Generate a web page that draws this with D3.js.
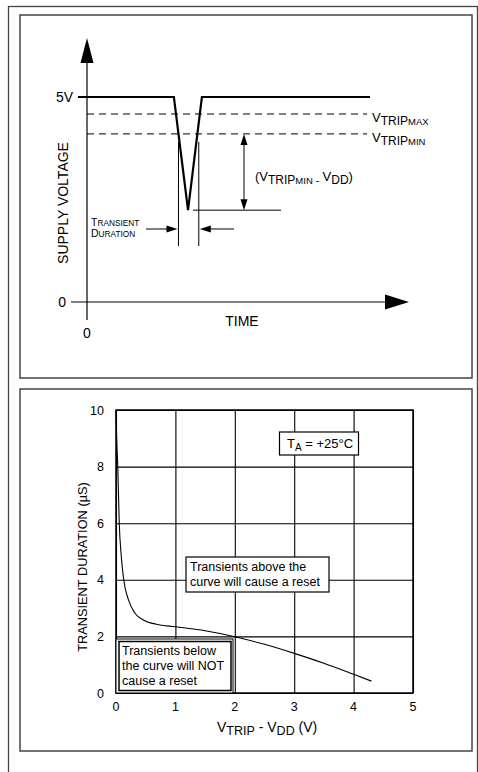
<!DOCTYPE html>
<html>
<head>
<meta charset="utf-8">
<script src="https://cdn.jsdelivr.net/npm/d3@7"></script>
<style>
  body { margin: 0; background: #fff; }
  svg { display: block; font-family: "Liberation Sans", Arial, sans-serif; }
</style>
</head>
<body>
<svg id="chart"></svg>
<script>
// ---- data: top schematic (time in arbitrary units, volts) ----
var waveT = [-3.2, 30.7, 35.7, 40.6, 100];
var waveV = [5, 5, 2.24, 5, 5];
var tripNames = ['MAX', 'MIN'];
var tripV = [4.585, 4.10];
var supplyTicks = ['5V', '0'];

// ---- data: bottom chart ----
var curveX = [0, 0.01, 0.03, 0.055, 0.09, 0.13, 0.21, 0.32, 0.46, 0.68, 1, 1.5, 2, 2.5, 3, 3.5, 4, 4.3];
var curveY = [10, 9.1, 8, 6, 4.8, 4, 3.29, 2.82, 2.58, 2.43, 2.34, 2.2, 1.99, 1.72, 1.4, 1.05, 0.66, 0.42];
var xTicks = [0, 1, 2, 3, 4, 5];
var yTicks = [0, 2, 4, 6, 8, 10];

var W = 478, H = 772;
var svg = d3.select('#chart').attr('width', W).attr('height', H);

// outer frame and two panels
svg.append('rect').attr('x', 8.5).attr('y', 6.5).attr('width', 469).attr('height', 800)
  .attr('fill', 'none').attr('stroke', '#444').attr('stroke-width', 1.3);
svg.append('rect').attr('x', 20).attr('y', 15).attr('width', 452).attr('height', 363)
  .attr('fill', 'none').attr('stroke', '#444').attr('stroke-width', 1.5);
svg.append('rect').attr('x', 20).attr('y', 389).attr('width', 452).attr('height', 362)
  .attr('fill', 'none').attr('stroke', '#444').attr('stroke-width', 1.5);

// ================= top schematic =================
var tx = d3.scaleLinear().domain([0, 100]).range([87, 370]);
var vy = d3.scaleLinear().domain([0, 5]).range([302, 97]);
var upper = svg.append('g');

function tri(g, x, y, dir, len, half) {
  var p;
  if (dir == 'up') p = [[x, y], [x - half, y + len], [x + half, y + len]];
  if (dir == 'down') p = [[x, y], [x - half, y - len], [x + half, y - len]];
  if (dir == 'right') p = [[x, y], [x - len, y - half], [x - len, y + half]];
  if (dir == 'left') p = [[x, y], [x + len, y - half], [x + len, y + half]];
  g.append('path').attr('d', 'M' + p.join('L') + 'Z').attr('fill', '#000');
}

// axes
upper.append('line').attr('x1', tx(0)).attr('x2', tx(0)).attr('y1', 320).attr('y2', 55)
  .attr('stroke', '#000').attr('stroke-width', 1.2);
tri(upper, tx(0), 38, 'up', 25, 6.5);
upper.append('line').attr('x1', 71).attr('x2', 395).attr('y1', vy(0)).attr('y2', vy(0))
  .attr('stroke', '#000').attr('stroke-width', 1.2);
tri(upper, 409, vy(0), 'right', 24, 7.5);

// tick labels
upper.append('text').attr('x', 73).attr('y', vy(5) + 5).attr('text-anchor', 'end')
  .attr('font-size', 14).text(supplyTicks[0]);
upper.append('text').attr('x', 66).attr('y', vy(0) + 5).attr('text-anchor', 'end')
  .attr('font-size', 14).text(supplyTicks[1]);
upper.append('text').attr('x', tx(0)).attr('y', 338).attr('text-anchor', 'middle')
  .attr('font-size', 14).text('0');
upper.append('text').attr('x', 242).attr('y', 326).attr('text-anchor', 'middle')
  .attr('font-size', 14).text('TIME');
upper.append('text').attr('transform', 'translate(68,203) rotate(-90)')
  .attr('text-anchor', 'middle').attr('font-size', 14).text('SUPPLY VOLTAGE');

// dashed trip levels
tripV.forEach(function(v, i) {
  upper.append('line').attr('x1', tx(0)).attr('x2', tx(99)).attr('y1', vy(v)).attr('y2', vy(v))
    .attr('stroke', '#000').attr('stroke-width', 1).attr('stroke-dasharray', '7,5');
  var t = upper.append('text').attr('x', 372).attr('y', vy(v) + 8);
  t.append('tspan').attr('font-size', 13).text('V');
  t.append('tspan').attr('font-size', 12).attr('dy', 3).text('TRIP');
  t.append('tspan').attr('font-size', 9.5).text(tripNames[i]);
});

// waveform
var wave = d3.line().x(function(d) { return tx(d[0]); }).y(function(d) { return vy(d[1]); });
upper.append('path').datum(d3.zip(waveT, waveV)).attr('d', wave)
  .attr('fill', 'none').attr('stroke', '#000').attr('stroke-width', 2.2).attr('stroke-linejoin', 'miter');

// crossings of the dip with VTRIPMIN
var vmin = tripV[1];
var tL = waveT[1] + (waveT[2] - waveT[1]) * (waveV[1] - vmin) / (waveV[1] - waveV[2]);
var tR = waveT[2] + (waveT[3] - waveT[2]) * (vmin - waveV[2]) / (waveV[3] - waveV[2]);
[tL, tR + 0.5].forEach(function(t) {
  upper.append('line').attr('x1', tx(t)).attr('x2', tx(t)).attr('y1', vy(vmin) + 8).attr('y2', 246)
    .attr('stroke', '#000').attr('stroke-width', 1);
});

// depth marker
upper.append('line').attr('x1', tx(waveT[2]) + 5).attr('x2', 281).attr('y1', vy(waveV[2])).attr('y2', vy(waveV[2]))
  .attr('stroke', '#000').attr('stroke-width', 1);
upper.append('line').attr('x1', 244).attr('x2', 244).attr('y1', vy(vmin) + 8).attr('y2', vy(waveV[2]) - 8)
  .attr('stroke', '#000').attr('stroke-width', 1);
tri(upper, 244, vy(vmin), 'up', 11, 3.5);
tri(upper, 244, vy(waveV[2]), 'down', 11, 3.5);
var lbl = upper.append('text').attr('x', 255).attr('y', 181);
lbl.append('tspan').attr('font-size', 13).text('(V');
lbl.append('tspan').attr('font-size', 12).attr('dy', 3).text('TRIP');
lbl.append('tspan').attr('font-size', 9.5).text('MIN');
lbl.append('tspan').attr('font-size', 11).text(' - ');
lbl.append('tspan').attr('font-size', 13).attr('dy', -3).text('V');
lbl.append('tspan').attr('font-size', 12).attr('dy', 3).text('DD');
lbl.append('tspan').attr('font-size', 13).attr('dy', -3).text(')');

// transient duration arrows
var ay = 229;
upper.append('line').attr('x1', 146).attr('x2', tx(tL) - 8).attr('y1', ay).attr('y2', ay)
  .attr('stroke', '#000').attr('stroke-width', 1);
tri(upper, tx(tL) - 1, ay, 'right', 11, 3.5);
upper.append('line').attr('x1', tx(tR + 0.5) + 8).attr('x2', 234).attr('y1', ay).attr('y2', ay)
  .attr('stroke', '#000').attr('stroke-width', 1);
tri(upper, tx(tR + 0.5) + 1, ay, 'left', 11, 3.5);
var td1 = upper.append('text').attr('x', 91).attr('y', 226);
td1.append('tspan').attr('font-size', 10.5).text('T');
td1.append('tspan').attr('font-size', 8.3).text('RANSIENT');
var td2 = upper.append('text').attr('x', 91).attr('y', 237);
td2.append('tspan').attr('font-size', 10.5).text('D');
td2.append('tspan').attr('font-size', 8.3).text('URATION');

// ================= bottom chart =================
var x = d3.scaleLinear().domain([0, 5]).range([116, 413]);
var y = d3.scaleLinear().domain([0, 10]).range([693, 410]);
var bot = svg.append('g');

// grid
bot.append('g').attr('transform', 'translate(0,' + y(0) + ')')
  .call(d3.axisBottom(x).tickValues(xTicks).tickSize(-(y(0) - y(10))).tickFormat(''))
  .call(function(g) {
    g.select('.domain').remove();
    g.selectAll('line').attr('stroke', '#000').attr('stroke-width', 1.1);
  });
bot.append('g').attr('transform', 'translate(' + x(0) + ',0)')
  .call(d3.axisLeft(y).tickValues(yTicks).tickSize(-(x(5) - x(0))).tickFormat(''))
  .call(function(g) {
    g.select('.domain').remove();
    g.selectAll('line').attr('stroke', '#000').attr('stroke-width', 1.1);
  });
bot.append('rect').attr('x', x(0)).attr('y', y(10)).attr('width', x(5) - x(0)).attr('height', y(0) - y(10))
  .attr('fill', 'none').attr('stroke', '#000').attr('stroke-width', 1.5);

// tick labels
bot.selectAll('.xl').data(xTicks).enter().append('text')
  .attr('x', function(d) { return x(d); }).attr('y', 711)
  .attr('text-anchor', 'middle').attr('font-size', 12.5).text(function(d) { return d; });
bot.selectAll('.yl').data(yTicks).enter().append('text')
  .attr('x', 104).attr('y', function(d) { return y(d) + 4.5; })
  .attr('text-anchor', 'end').attr('font-size', 12.5).text(function(d) { return d; });

// axis titles
var xt = bot.append('text').attr('x', 217).attr('y', 732);
xt.append('tspan').attr('font-size', 14).text('V');
xt.append('tspan').attr('font-size', 12.5).attr('dy', 3).text('TRIP');
xt.append('tspan').attr('font-size', 14).attr('dy', -3).text(' - V');
xt.append('tspan').attr('font-size', 12.5).attr('dy', 3).text('DD');
xt.append('tspan').attr('font-size', 14).attr('dy', -3).text(' (V)');
bot.append('text').attr('transform', 'translate(87,567) rotate(-90)')
  .attr('text-anchor', 'middle').attr('font-size', 12.8).text('TRANSIENT DURATION (µS)');

// curve
var line = d3.line().x(function(d) { return x(d[0]); }).y(function(d) { return y(d[1]); })
  .curve(d3.curveMonotoneX);
bot.append('path').datum(d3.zip(curveX, curveY)).attr('d', line)
  .attr('fill', 'none').attr('stroke', '#000').attr('stroke-width', 1.1);

// TA box
bot.append('rect').attr('x', 279.5).attr('y', 432).attr('width', 79).attr('height', 23)
  .attr('fill', '#fff').attr('stroke', '#000').attr('stroke-width', 1.2);
var ta = bot.append('text').attr('x', 287).attr('y', 448);
ta.append('tspan').attr('font-size', 13).text('T');
ta.append('tspan').attr('font-size', 10).attr('dy', 3).text('A');
ta.append('tspan').attr('font-size', 13).attr('dy', -3).text(' = +25°C');

// "above" box
bot.append('rect').attr('x', 186).attr('y', 557).attr('width', 143).attr('height', 35)
  .attr('fill', '#fff').attr('stroke', '#000').attr('stroke-width', 1.2);
['Transients above the', 'curve will cause a reset'].forEach(function(s, i) {
  bot.append('text').attr('x', 190).attr('y', 571 + i * 15).attr('font-size', 12.5).text(s);
});

// "below" box (double border)
bot.append('rect').attr('x', 116).attr('y', 639).attr('width', 117).attr('height', 54)
  .attr('fill', '#fff').attr('stroke', '#000').attr('stroke-width', 1);
bot.append('rect').attr('x', 119).attr('y', 641.5).attr('width', 112).attr('height', 49)
  .attr('fill', '#fff').attr('stroke', '#000').attr('stroke-width', 1.5);
['Transients below', 'the curve will NOT', 'cause a reset'].forEach(function(s, i) {
  bot.append('text').attr('x', 122).attr('y', 655 + i * 15).attr('font-size', 12.5).text(s);
});
</script>
</body>
</html>
